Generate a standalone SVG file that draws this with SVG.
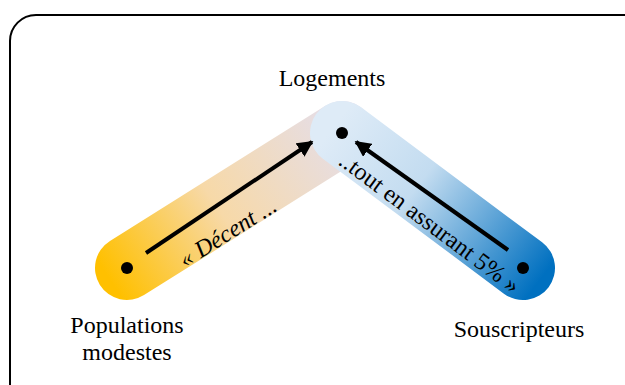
<svg xmlns="http://www.w3.org/2000/svg" width="625" height="385" viewBox="0 0 625 385">
<defs>
<linearGradient id="gL" gradientUnits="userSpaceOnUse" x1="110" y1="280" x2="350" y2="120">
<stop offset="0" stop-color="#FFC000"/>
<stop offset="0.45" stop-color="#F7D9A8"/>
<stop offset="1" stop-color="#E4DEEC"/>
</linearGradient>
<linearGradient id="gR" gradientUnits="userSpaceOnUse" x1="335" y1="125" x2="540" y2="280">
<stop offset="0" stop-color="#DEEBF7"/>
<stop offset="0.4" stop-color="#C3DCF0"/>
<stop offset="1" stop-color="#0070C0"/>
</linearGradient>
<marker id="ah" viewBox="0 0 10 10" refX="9" refY="5" markerWidth="4" markerHeight="4" orient="auto" markerUnits="strokeWidth">
<path d="M0,0 L10,5 L0,10 z" fill="#000"/>
</marker>
<style>
.lbl{font-family:"Liberation Serif","Times New Roman",serif;font-size:24px;fill:#000;text-anchor:middle}
.it{font-style:italic}
.arr{stroke:#000;stroke-width:4;fill:none;marker-end:url(#ah)}
.dot{fill:#000}
</style>
</defs>
<rect x="10" y="15" width="640" height="400" rx="26" ry="26" fill="#fff" stroke="#000" stroke-width="2"/>
<g id="bands">
<line x1="127" y1="268" x2="342" y2="133" stroke="url(#gL)" stroke-width="64" stroke-linecap="round"/>
<line x1="342" y1="133" x2="523" y2="268" stroke="url(#gR)" stroke-width="64" stroke-linecap="round"/>
</g>
<g id="connectors">
<line class="arr" x1="146" y1="253" x2="312" y2="142"/>
<line class="arr" x1="508" y1="250" x2="356" y2="142"/>
<text class="lbl it" x="232" y="239" transform="rotate(-32 232 239)">« Décent ...</text>
<text class="lbl" x="425" y="229" transform="rotate(36.7 425 229)">..tout en assurant 5% »</text>
</g>
<g id="logements">
<circle class="dot" cx="342" cy="133" r="6"/>
<text class="lbl" x="332" y="86">Logements</text>
</g>
<g id="populations">
<circle class="dot" cx="127" cy="268" r="6"/>
<text class="lbl" x="127" y="333">Populations</text>
<text class="lbl" x="127" y="360">modestes</text>
</g>
<g id="souscripteurs">
<circle class="dot" cx="523" cy="268" r="6"/>
<text class="lbl" x="519" y="337">Souscripteurs</text>
</g>
</svg>
